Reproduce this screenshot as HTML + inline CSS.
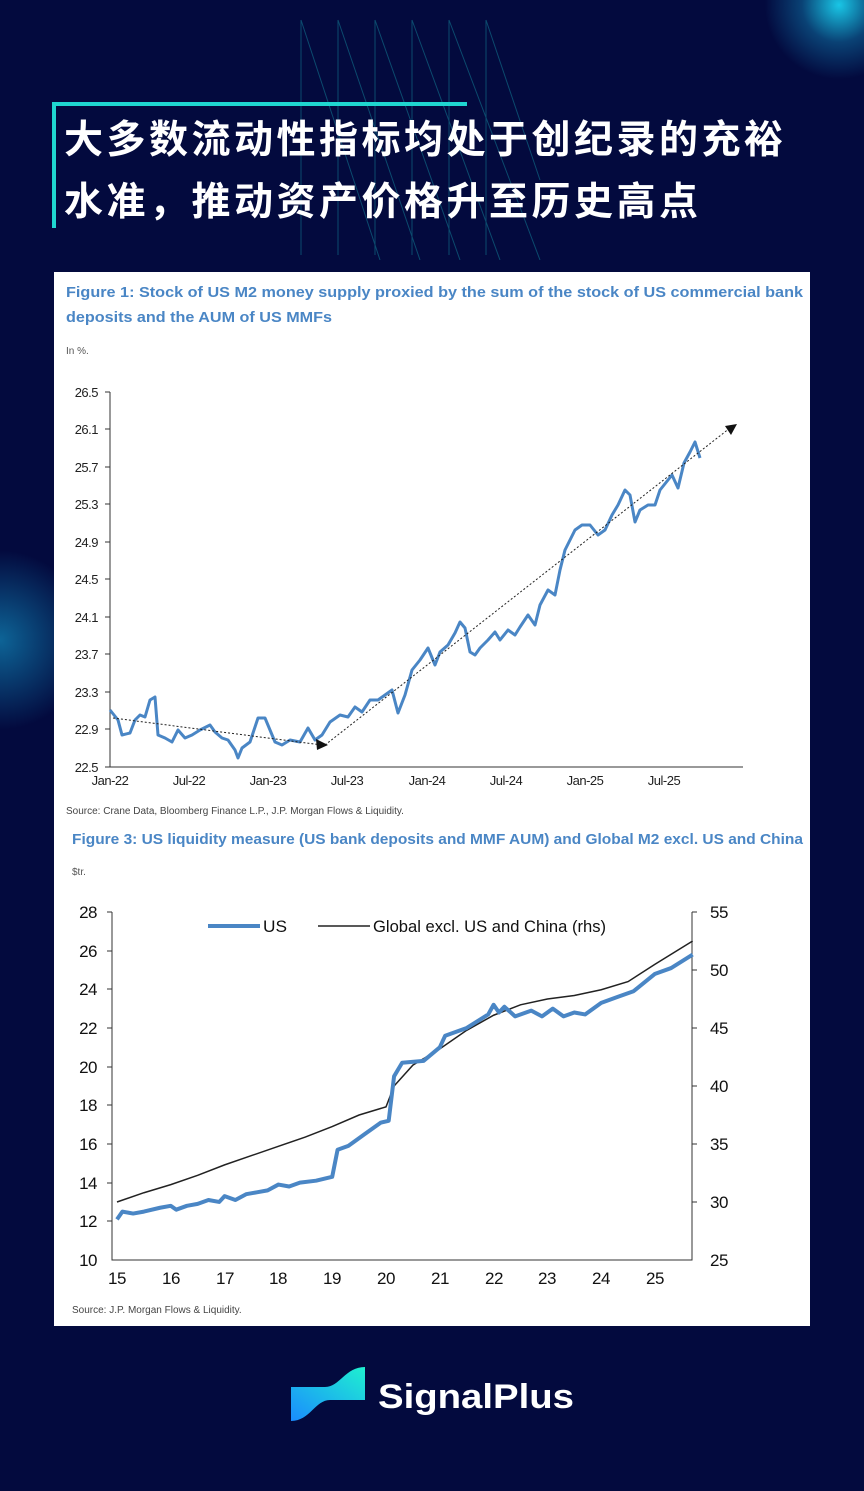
<!DOCTYPE html>
<html><head><meta charset="utf-8"><style>
body{margin:0;width:864px;height:1491px;background:#030a3e;position:relative;overflow:hidden;font-family:"Liberation Sans",sans-serif}
.glow1{position:absolute;right:-50px;top:-70px;width:150px;height:150px;border-radius:50%;background:radial-gradient(circle,#19c6e6 0%,rgba(20,150,200,.4) 35%,rgba(3,10,62,0) 70%)}
.glow2{position:absolute;left:-80px;top:540px;width:160px;height:200px;border-radius:50%;background:radial-gradient(circle,rgba(20,160,210,.6) 0%,rgba(3,10,62,0) 70%)}
.title{position:absolute;left:64px;top:106px;color:#fff;font:bold 39px/62px "Noto Sans CJK SC",sans-serif;letter-spacing:3.5px}
.panel{position:absolute;left:54px;top:272px;width:756px;height:1054px;background:#fff}
</style></head><body>
<div class="glow1"></div><div class="glow2"></div>
<svg style="position:absolute;left:0;top:0" width="864" height="260">
<g stroke="#0e5a7a" stroke-width="1" fill="none" opacity=".8">
<path d="M301 20V255M338 20V255M375 20V255M412 20V255M449 20V255M486 20V255"/>
<path d="M301 20L380 260M338 20L420 260M375 20L460 260M412 20L500 260M449 20L540 260M486 20L540 180"/>
</g>
<rect x="52" y="102" width="415" height="4" fill="#1fd6d0"/>
<rect x="52" y="102" width="4" height="126" fill="#1fd6d0"/>
</svg>
<div class="title">大多数流动性指标均处于创纪录的充裕<br>水准，推动资产价格升至历史高点</div>
<div class="panel"></div>
<svg style="position:absolute;left:0;top:0" width="864" height="1491" font-family="Liberation Sans, sans-serif">
<text x="66" y="297" font-size="14.5" font-weight="bold" fill="#4a86c5" textLength="737" lengthAdjust="spacingAndGlyphs">Figure 1: Stock of US M2 money supply proxied by the sum of the stock of US commercial bank</text>
<text x="66" y="322" font-size="14.5" font-weight="bold" fill="#4a86c5" textLength="266" lengthAdjust="spacingAndGlyphs">deposits and the AUM of US MMFs</text>
<text x="66" y="354" font-size="10" fill="#555">In %.</text>
<g font-size="13" fill="#222" text-anchor="end" letter-spacing="-0.5">
<text x="98" y="397">26.5</text><text x="98" y="434">26.1</text><text x="98" y="472">25.7</text><text x="98" y="509">25.3</text><text x="98" y="547">24.9</text><text x="98" y="584">24.5</text><text x="98" y="622">24.1</text><text x="98" y="659">23.7</text><text x="98" y="697">23.3</text><text x="98" y="734">22.9</text><text x="98" y="772">22.5</text>
</g>
<path d="M110 392V767H743" stroke="#333" fill="none"/>
<g stroke="#333"><path d="M105 392h5M105 429h5M105 467h5M105 504h5M105 542h5M105 579h5M105 617h5M105 654h5M105 692h5M105 729h5M105 767h5"/></g>
<g font-size="13" fill="#222" text-anchor="middle" letter-spacing="-0.5">
<text x="110" y="785">Jan-22</text><text x="189" y="785">Jul-22</text><text x="268" y="785">Jan-23</text><text x="347" y="785">Jul-23</text><text x="427" y="785">Jan-24</text><text x="506" y="785">Jul-24</text><text x="585" y="785">Jan-25</text><text x="664" y="785">Jul-25</text>
</g>
<polyline fill="none" stroke="#4a86c5" stroke-width="3" stroke-linejoin="round" points="110,710 118,720 122,735 130,733 135,720 140,715 145,717 150,700 155,697 158,735 165,738 172,742 178,730 185,738 192,735 200,730 210,725 215,732 222,738 228,740 235,750 238,758 242,748 250,742 258,718 265,718 270,730 275,742 282,745 290,740 300,742 308,728 315,740 322,735 330,722 340,715 348,717 355,707 362,712 370,700 378,700 385,695 392,690 398,713 405,695 412,670 420,660 428,648 435,665 440,652 448,645 455,633 460,622 465,628 470,652 475,655 480,648 488,640 495,632 500,640 508,630 515,635 520,627 528,615 535,625 540,605 548,590 555,595 560,570 565,550 570,540 575,530 582,525 590,525 598,535 605,530 612,515 618,505 625,490 630,495 635,522 640,510 648,505 655,505 660,490 668,480 672,475 678,488 684,463 690,452 695,442 700,458"/>
<path d="M113 718L322 745M325 745L730 428" stroke="#222" stroke-width="1" stroke-dasharray="2,2" fill="none"/>
<path d="M328 745l-12 -6l1 11z" fill="#111"/>
<path d="M737 424l-12 2l6 9z" fill="#111"/>
<text x="66" y="814" font-size="10" fill="#444">Source: Crane Data, Bloomberg Finance L.P., J.P. Morgan Flows &amp; Liquidity.</text>
<text x="72" y="844" font-size="14.5" font-weight="bold" fill="#4a86c5" textLength="731" lengthAdjust="spacingAndGlyphs">Figure 3: US liquidity measure (US bank deposits and MMF AUM) and Global M2 excl. US and China</text>
<text x="72" y="875" font-size="10" fill="#555">$tr.</text>
<g font-size="17" fill="#111" text-anchor="end" letter-spacing="-0.5">
<text x="97" y="918">28</text><text x="97" y="957">26</text><text x="97" y="995">24</text><text x="97" y="1034">22</text><text x="97" y="1073">20</text><text x="97" y="1111">18</text><text x="97" y="1150">16</text><text x="97" y="1189">14</text><text x="97" y="1227">12</text><text x="97" y="1266">10</text>
</g>
<g font-size="17" fill="#111" letter-spacing="-0.5">
<text x="710" y="918">55</text><text x="710" y="976">50</text><text x="710" y="1034">45</text><text x="710" y="1092">40</text><text x="710" y="1150">35</text><text x="710" y="1208">30</text><text x="710" y="1266">25</text>
</g>
<path d="M112 912V1260H692V912" stroke="#333" fill="none"/>
<g stroke="#333"><path d="M107 912h5M107 951h5M107 989h5M107 1028h5M107 1067h5M107 1105h5M107 1144h5M107 1183h5M107 1221h5M692 912h5M692 970h5M692 1028h5M692 1086h5M692 1144h5M692 1202h5"/></g>
<g font-size="17" fill="#111" text-anchor="middle" letter-spacing="-0.5">
<text x="117" y="1284">15</text><text x="171" y="1284">16</text><text x="225" y="1284">17</text><text x="278" y="1284">18</text><text x="332" y="1284">19</text><text x="386" y="1284">20</text><text x="440" y="1284">21</text><text x="494" y="1284">22</text><text x="547" y="1284">23</text><text x="601" y="1284">24</text><text x="655" y="1284">25</text>
</g>
<path d="M208 926H260" stroke="#4a86c5" stroke-width="4"/>
<text x="263" y="932" font-size="17" fill="#111" textLength="24" lengthAdjust="spacingAndGlyphs">US</text>
<path d="M318 926H370" stroke="#222" stroke-width="1.5"/>
<text x="373" y="932" font-size="17" fill="#111" textLength="233" lengthAdjust="spacingAndGlyphs">Global excl. US and China (rhs)</text>
<polyline id="g" fill="none" stroke="#222" stroke-width="1.5"/>
<polyline id="u" fill="none" stroke="#4a86c5" stroke-width="4" stroke-linejoin="round"/>
<text x="72" y="1313" font-size="10" fill="#444">Source: J.P. Morgan Flows &amp; Liquidity.</text>
<defs><linearGradient id="lg" x1="0" y1="1" x2="1" y2="0"><stop offset="0" stop-color="#1a8cff"/><stop offset="1" stop-color="#1ff0d0"/></linearGradient></defs>
<path d="M291 1387H325C340 1387 345 1367 365 1367V1400H330C315 1400 310 1421 291 1421Z" fill="url(#lg)"/>
<text x="378" y="1408" font-size="34" font-weight="bold" fill="#fff" textLength="196" lengthAdjust="spacingAndGlyphs">SignalPlus</text>
</svg>
<script>
function X(t){return 117+(t-2015)*53.8}
function YL(v){return 912+(28-v)*19.33}
function YR(v){return 912+(55-v)*11.6}
var us=[[2015,12.1],[2015.1,12.5],[2015.3,12.4],[2015.5,12.5],[2015.8,12.7],[2016,12.8],[2016.1,12.6],[2016.3,12.8],[2016.5,12.9],[2016.7,13.1],[2016.9,13.0],[2017,13.3],[2017.2,13.1],[2017.4,13.4],[2017.6,13.5],[2017.8,13.6],[2018,13.9],[2018.2,13.8],[2018.4,14.0],[2018.7,14.1],[2019,14.3],[2019.1,15.7],[2019.3,15.9],[2019.6,16.5],[2019.9,17.1],[2020.05,17.2],[2020.15,19.5],[2020.3,20.2],[2020.7,20.3],[2021,21.0],[2021.1,21.6],[2021.5,22.0],[2021.9,22.7],[2022,23.2],[2022.1,22.8],[2022.2,23.1],[2022.4,22.6],[2022.7,22.9],[2022.9,22.6],[2023.1,23.0],[2023.3,22.6],[2023.5,22.8],[2023.7,22.7],[2024,23.3],[2024.3,23.6],[2024.6,23.9],[2025,24.8],[2025.3,25.1],[2025.7,25.8]];
var gl=[[2015,30],[2015.5,30.8],[2016,31.5],[2016.5,32.3],[2017,33.2],[2017.5,34],[2018,34.8],[2018.5,35.6],[2019,36.5],[2019.5,37.5],[2020,38.2],[2020.15,40],[2020.5,41.8],[2021,43.2],[2021.5,44.8],[2022,46.1],[2022.5,47],[2023,47.5],[2023.5,47.8],[2024,48.3],[2024.5,49],[2025,50.5],[2025.7,52.5]];
document.getElementById('u').setAttribute('points',us.map(p=>X(p[0])+','+YL(p[1])).join(' '));
document.getElementById('g').setAttribute('points',gl.map(p=>X(p[0])+','+YR(p[1])).join(' '));
</script>
</body></html>
